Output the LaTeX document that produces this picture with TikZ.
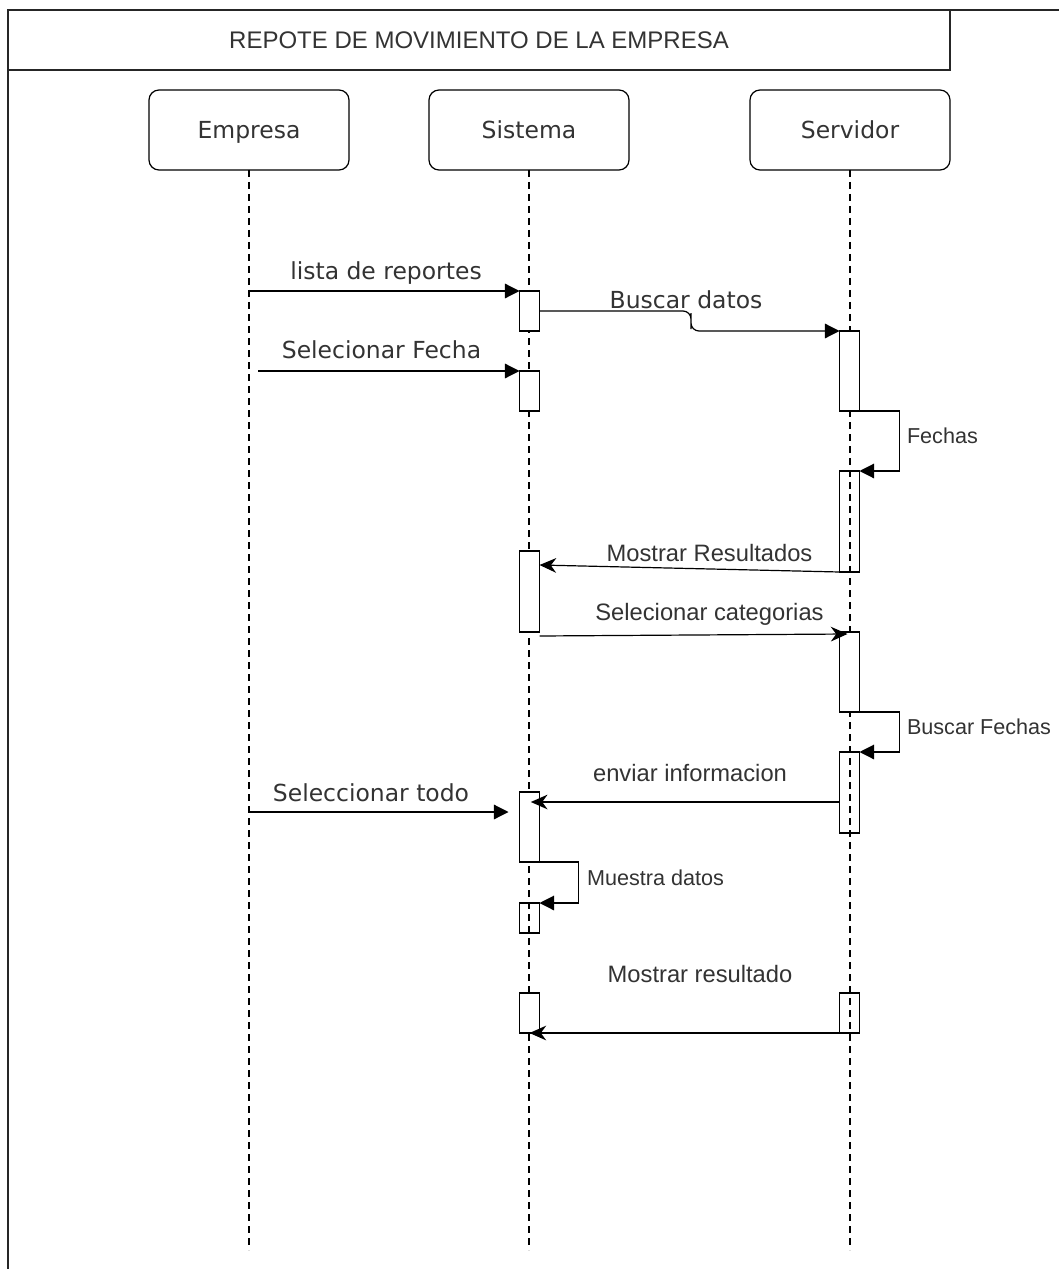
\documentclass[tikz,border=0pt]{standalone}
\usepackage{fontspec}
\newfontfamily\djv{DejaVu Sans}
\newfontfamily\arl{Liberation Sans}
\usetikzlibrary{arrows.meta}
\definecolor{txt}{HTML}{333333}
\begin{document}
\begin{tikzpicture}[x=0.75pt,y=-0.75pt,
 every node/.style={inner sep=0pt, outer sep=0pt},
 frame/.style={draw=black!85, line width=1.2pt},
 head/.style={draw, rounded corners=7.5pt, line width=0.9pt, minimum width=150pt, minimum height=60pt, text height=15pt, text depth=1.5pt, font=\djv\fontsize{17.6pt}{20pt}\selectfont, text=txt},
 life/.style={draw, line width=0.9pt, dash pattern=on 5pt off 4pt},
 actw/.style={draw, fill=white, line width=0.9pt, minimum width=15pt, anchor=north},
 acto/.style={draw, line width=0.9pt, minimum width=15pt, anchor=north},
 blk/.style={draw, line width=0.9pt, -{Triangle[length=11pt,width=11pt]}},
 cls/.style={draw, line width=0.9pt, -{Stealth[length=12.5pt,width=11pt,inset=4pt]}},
 lbd/.style={font=\djv\fontsize{17.6pt}{20pt}\selectfont, text=txt, anchor=base},
 lba/.style={font=\arl\fontsize{17.8pt}{20pt}\selectfont, text=txt, anchor=base},
 lbs/.style={font=\arl\fontsize{16.2pt}{19pt}\selectfont, text=txt, anchor=base west},
]
\useasboundingbox (0,0) rectangle (1059,1269);
\fill[white] (0,0) rectangle (1059,1269);
% frame
\coordinate (fbl) at (8,1269);
\coordinate (ftl) at (8,10);
\coordinate (ftr) at (1059,10);
\draw[frame] (fbl) -- (ftl) -- (ftr);
\node[frame, anchor=north west, minimum width=706.5pt, minimum height=45pt,
      font=\arl\fontsize{18pt}{20pt}\selectfont, text=txt] (title) at (8,10) {REPOTE DE MOVIMIENTO DE LA EMPRESA};
% heads
\node[head] (emp) at (249,130) {Empresa};
\node[head] (sis) at (529,130) {Sistema};
\node[head] (srv) at (850,130) {Servidor};
% lifelines
\coordinate (empE) at (249,1250);
\coordinate (sisE) at (529,1250);
\coordinate (srvE) at (850,1250);
\draw[life] (emp.south) -- (empE);
\draw[life] (sis.south) -- (sisE);
\draw[life] (srv.south) -- (srvE);
% activation boxes
\node[actw, minimum height=30pt]    (s1) at (529.5,291) {};
\node[actw, minimum height=30pt]    (s2) at (529.5,371) {};
\node[actw, minimum height=60pt]    (v1) at (849.5,331) {};
\node[acto, minimum height=75.75pt] (v2) at (849.5,471) {};
\node[actw, minimum height=60.75pt] (s3) at (529.5,551) {};
\node[actw, minimum height=60pt]    (v3) at (849.5,632) {};
\node[acto, minimum height=60.75pt] (v4) at (849.5,752) {};
\node[actw, minimum height=52.5pt]  (s4) at (529.5,792) {};
\node[acto, minimum height=22.5pt]  (s5) at (529.5,903) {};
\node[actw, minimum height=30pt]    (s6) at (529.5,993) {};
\node[acto, minimum height=30pt]    (v5) at (849.5,993) {};
% messages
\draw[blk] (emp |- s1.north) -- (s1.north west);
\node[lbd] (l1) at (386,280) {lista de reportes};

\coordinate (k1) at (691,321);
\draw[blk, rounded corners=6pt] (s1.east) -| (k1) |- (v1.north west);
\node[lbd] (l2) at (686,309) {Buscar datos};

\coordinate (c3) at (258,371);
\draw[blk] (c3) -- (s2.north west);
\node[lbd] (l3) at (381.5,358) {Selecionar Fecha};

\draw[blk] (v1.south east) -- ++(40,0) |- (v2.north east);
\node[lbs] (l4) at (907,443) {Fechas};

\draw[cls] (v2.south west) -- ([yshift=-10.5pt]s3.north east);
\node[lba] (l5) at (709.5,561) {Mostrar Resultados};

\draw[cls] ([yshift=-3pt]s3.south east) -- ([xshift=-1.5pt,yshift=-1.5pt]v3.north);
\node[lba] (l6) at (709.5,620) {Selecionar categorias};

\draw[blk] (v3.south east) -- ++(40,0) |- (v4.north east);
\node[lbs] (l7) at (907,734) {Buscar Fechas};

\draw[cls] ([yshift=-37.5pt]v4.north west) -- ([xshift=1pt,yshift=-7.5pt]s4.north);
\node[lba] (l8) at (690,781) {enviar informacion};

\coordinate (e9) at (249,812);
\draw[blk] (e9) -- ([xshift=-8.25pt,yshift=-15pt]s4.north west);
\node[lbd] (l9) at (371,801) {Seleccionar todo};

\draw[blk] (s4.south east) -- ++(39,0) |- (s5.north east);
\node[lbs] (l10) at (587,885) {Muestra datos};

\draw[cls] (v5.south west) -- (s6.south);
\node[lba] (l11) at (700,982) {Mostrar resultado};
\end{tikzpicture}
\end{document}
